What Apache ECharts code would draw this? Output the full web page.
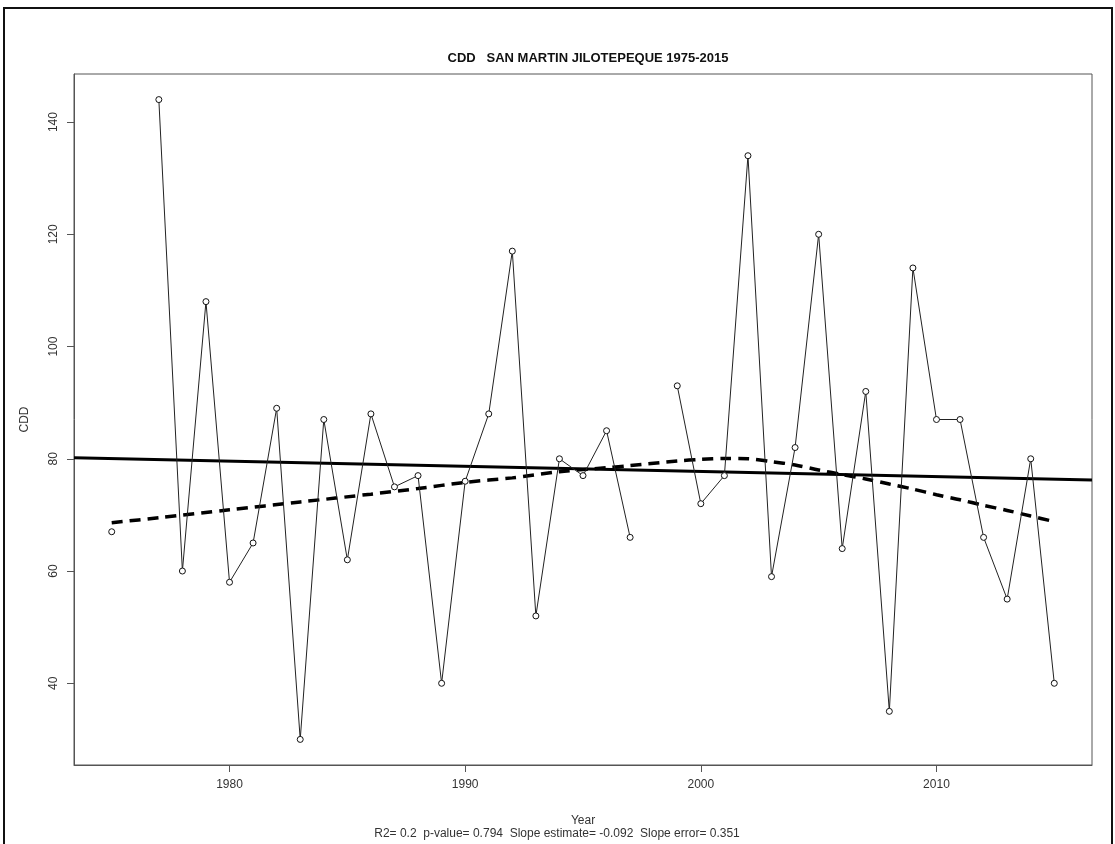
<!DOCTYPE html>
<html>
<head>
<meta charset="utf-8">
<script src="https://cdn.jsdelivr.net/npm/echarts@6/dist/echarts.min.js"></script>
<style>
html,body{margin:0;padding:0;background:#fff;}
#chart{width:1115px;height:844px;}
</style>
</head>
<body>
<div id="chart"></div>
<script>
const years = [1975,1976,1977,1978,1979,1980,1981,1982,1983,1984,1985,1986,1987,1988,1989,1990,1991,1992,1993,1994,1995,1996,1997,1998,1999,2000,2001,2002,2003,2004,2005,2006,2007,2008,2009,2010,2011,2012,2013,2014,2015];
const cddValues = [67,null,144,60,108,58,65,89,30,87,62,88,75,77,40,76,88,117,52,80,77,85,66,null,93,72,77,134,59,82,120,64,92,35,114,87,87,66,55,80,40];
const loessYears = [1975,1977,1980,1983,1986,1988,1990,1992,1994,1996,1997,1999,2000,2001,2002,2003,2004,2005,2006,2007,2008,2009,2010,2011,2012,2013,2014,2015];
const loessValues = [68.6,69.5,70.9,72.3,73.7,74.7,75.8,76.6,77.7,78.4,78.8,79.6,79.9,80.05,80.0,79.5,78.9,78.0,77.2,76.4,75.5,74.6,73.6,72.7,71.7,70.8,69.8,68.8];
const trendX = [1973.4, 2016.6];
const trendY = [80.2, 76.2];
const xTicks = [1980,1990,2000,2010];
const yTicks = [40,60,80,100,120,140];
const titleText = 'CDD   SAN MARTIN JILOTEPEQUE 1975-2015';
const subText = 'R2= 0.2  p-value= 0.794  Slope estimate= -0.092  Slope error= 0.351';

const font = 'Liberation Sans, Arial, sans-serif';
const chart = echarts.init(document.getElementById('chart'), null, {renderer: 'canvas'});

const mainData = years.map((y, i) => [y, cddValues[i] === null ? '-' : cddValues[i]]);
const loessData = loessYears.map((y, i) => [y, loessValues[i]]);
const trendData = trendX.map((x, i) => [x, trendY[i]]);

chart.setOption({
  animation: false,
  backgroundColor: '#fff',
  title: {
    text: titleText,
    left: 583, top: 47, textAlign: 'center',
    textStyle: {fontFamily: font, fontWeight: 'bold', fontSize: 13, color: '#111'}
  },
  grid: {left: 74, right: 23, top: 74, bottom: 79, show: true, borderColor: '#555', borderWidth: 1, backgroundColor: 'transparent'},
  xAxis: {
    type: 'value', min: 1973.4, max: 2016.6,
    name: 'Year', nameLocation: 'middle', nameGap: 50,
    nameTextStyle: {fontFamily: font, fontSize: 12, color: '#333'},
    axisLine: {show: true, onZero: false, lineStyle: {color: '#555'}},
    axisTick: {show: true, inside: false, length: 7, customValues: xTicks, lineStyle: {color: '#555'}},
    axisLabel: {customValues: xTicks, formatter: v => String(v), fontFamily: font, fontSize: 12, color: '#333', margin: 14},
    splitLine: {show: false}
  },
  yAxis: {
    type: 'value', min: 25.44, max: 148.56,
    name: 'CDD', nameLocation: 'middle', nameGap: 43,
    nameTextStyle: {fontFamily: font, fontSize: 12, color: '#333'},
    axisLine: {show: true, onZero: false, lineStyle: {color: '#555'}},
    axisTick: {show: true, inside: false, length: 7, customValues: yTicks, lineStyle: {color: '#555'}},
    axisLabel: {customValues: yTicks, formatter: v => String(v), rotate: 90, fontFamily: font, fontSize: 12, color: '#333', margin: 14},
    splitLine: {show: false}
  },
  graphic: [
    {type: 'rect', shape: {x: 4, y: 8, width: 1108, height: 850}, style: {fill: 'none', stroke: '#111', lineWidth: 2}, silent: true, z: 100},
    {type: 'text', x: 557, y: 828, style: {text: subText, fontFamily: font, fontSize: 12, fill: '#333', align: 'center', verticalAlign: 'top'}}
  ],
  series: [
    {
      type: 'line', data: mainData, connectNulls: false,
      symbol: 'circle', symbolSize: 6, showAllSymbol: true,
      itemStyle: {color: '#fff', borderColor: '#111', borderWidth: 1},
      lineStyle: {color: '#222', width: 1},
      z: 3
    },
    {
      type: 'line', data: trendData, symbol: 'none',
      lineStyle: {color: '#000', width: 3}, z: 2
    },
    {
      type: 'line', data: loessData, symbol: 'none', smooth: 0.3,
      lineStyle: {color: '#000', width: 3.5, type: [11, 7]}, z: 2
    }
  ]
});
</script>
</body>
</html>
